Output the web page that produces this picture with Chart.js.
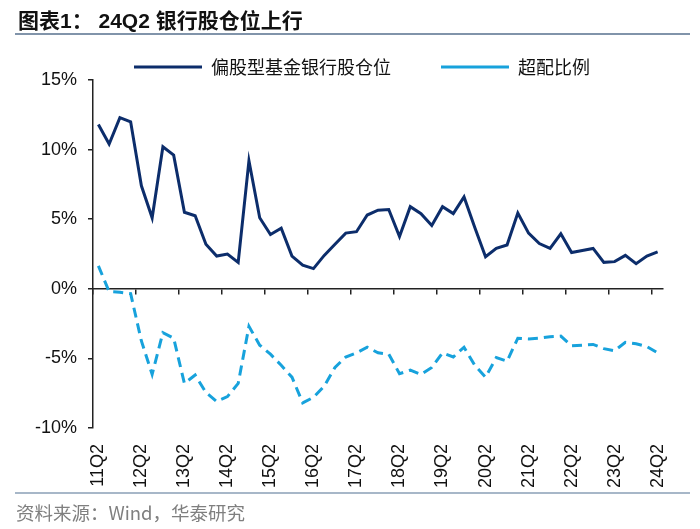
<!DOCTYPE html>
<html>
<head>
<meta charset="utf-8">
<script src="https://cdn.jsdelivr.net/npm/chart.js@4"></script>
<style>
  body { margin: 0; background: #fff; }
  #wrap { position: relative; width: 700px; height: 529px; }
  #wrap canvas { position: absolute; left: 0; top: 0; }
  .title {
    position: absolute; left: 15px; top: 4px; width: 672px; height: 29px; padding-left: 3px;
    border-bottom: 2px solid #8194aa;
    font: bold 21px "Liberation Sans", "Noto Sans CJK SC", sans-serif; color: #111;
  }
  .source {
    position: absolute; left: 15px; top: 492px; width: 674px; padding-top: 5px; padding-left: 1px;
    border-top: 2px solid #a7b7c8;
    font: 18.5px "Noto Sans CJK SC", sans-serif; color: #7f7f7f;
  }
</style>
</head>
<body>
<div id="wrap">
  <canvas id="chart" width="700" height="529"></canvas>
  <div class="title">图表1： 24Q2 银行股仓位上行</div>
  <div class="source">资料来源：Wind，华泰研究</div>
</div>
<script>
// 季度标签 11Q2 ~ 24Q2
const quarters = [
  '11Q2','11Q3','11Q4','12Q1','12Q2','12Q3','12Q4','13Q1','13Q2','13Q3','13Q4','14Q1',
  '14Q2','14Q3','14Q4','15Q1','15Q2','15Q3','15Q4','16Q1','16Q2','16Q3','16Q4','17Q1',
  '17Q2','17Q3','17Q4','18Q1','18Q2','18Q3','18Q4','19Q1','19Q2','19Q3','19Q4','20Q1',
  '20Q2','20Q3','20Q4','21Q1','21Q2','21Q3','21Q4','22Q1','22Q2','22Q3','22Q4','23Q1',
  '23Q2','23Q3','23Q4','24Q1','24Q2'
];

// 偏股型基金银行股仓位 (%)
const bankWeight = [
  11.8, 10.4, 12.3, 12.0, 7.4, 5.1, 10.2, 9.6, 5.5, 5.25, 3.2, 2.35,
  2.5, 1.9, 9.2, 5.1, 3.9, 4.35, 2.35, 1.7, 1.45, 2.4, 3.2, 4.0,
  4.1, 5.3, 5.65, 5.7, 3.75, 5.9, 5.4, 4.55, 5.9, 5.4, 6.6, 4.4,
  2.3, 2.9, 3.15, 5.45, 4.0, 3.25, 2.9, 3.95, 2.6, 2.75, 2.9, 1.9,
  1.95, 2.4, 1.8, 2.35, 2.65
];

// 超配比例 (%)
const overweight = [
  1.65, -0.2, -0.25, -0.35, -3.75, -6.15, -3.15, -3.55, -6.8, -6.2, -7.45, -8.1,
  -7.75, -6.8, -2.7, -4.05, -4.7, -5.5, -6.35, -8.2, -7.8, -7.0, -5.65, -4.9,
  -4.6, -4.2, -4.6, -4.7, -6.1, -5.85, -6.15, -5.65, -4.6, -4.9, -4.2, -5.5,
  -6.35, -4.95, -5.2, -3.55, -3.6, -3.55, -3.45, -3.4, -4.1, -4.05, -4.0, -4.3,
  -4.45, -3.85, -3.95, -4.15, -4.6
];

const yTicks = [-10, -5, 0, 5, 10, 15];

const axisFont = { family: '"Liberation Sans", Arial, sans-serif', size: 18 };
const tickEvery4 = ctx => (ctx.index % 4 === 0 ? '#222' : 'rgba(0,0,0,0)');

new Chart(document.getElementById('chart'), {
  type: 'line',
  data: {
    labels: quarters,
    datasets: [
      {
        label: '偏股型基金银行股仓位',
        data: bankWeight,
        borderColor: '#0c2d6b',
        backgroundColor: '#0c2d6b',
        borderWidth: 3,
        pointRadius: 0,
        pointStyle: 'line',
        tension: 0
      },
      {
        label: '超配比例',
        data: overweight,
        borderColor: '#17a2dc',
        backgroundColor: '#17a2dc',
        borderWidth: 3,
        borderDash: [10, 6],
        pointRadius: 0,
        pointStyle: 'line',
        tension: 0
      }
    ]
  },
  options: {
    responsive: false,
    animation: false,
    layout: { padding: { top: 8, left: 30, right: 6, bottom: 25 } },
    scales: {
      x: {
        offset: true,
        grid: { display: false, drawTicks: false },
        border: { display: false },
        ticks: {
          autoSkip: false,
          minRotation: 90,
          maxRotation: 90,
          padding: 16,
          color: '#111',
          font: axisFont,
          callback: (v, i) => (i % 4 === 0 ? quarters[i] : '')
        }
      },
      // 0% 处的横轴与刻度
      x2: {
        type: 'category',
        labels: quarters,
        position: { y: 0 },
        offset: true,
        grid: {
          offset: true,
          drawOnChartArea: false,
          tickLength: 5,
          lineWidth: 1.5,
          color: tickEvery4,
          tickColor: tickEvery4
        },
        border: { color: '#222', width: 1.5 },
        ticks: { display: false }
      },
      y: {
        min: -10,
        max: 15,
        afterBuildTicks: s => { s.ticks = yTicks.map(v => ({ value: v })); },
        afterFit: s => { s.width = 63; },
        grid: { drawOnChartArea: false, tickLength: 5, color: '#222', lineWidth: 1.5 },
        border: { color: '#222', width: 1.5 },
        ticks: {
          padding: 11,
          color: '#111',
          font: axisFont,
          callback: v => v + '%'
        }
      },
      // 右侧留白，使图例居中位置与原图一致
      yPad: {
        type: 'linear',
        position: 'right',
        grid: { display: false },
        border: { display: false },
        ticks: { display: false },
        afterFit: s => { s.width = 31; }
      }
    },
    plugins: {
      legend: {
        position: 'top',
        maxHeight: 72,
        labels: {
          usePointStyle: true,
          pointStyleWidth: 68,
          padding: 50,
          color: '#111',
          font: { family: '"Noto Sans CJK SC", sans-serif', size: 18 }
        }
      },
      tooltip: { enabled: false }
    }
  }
});
</script>
</body>
</html>
